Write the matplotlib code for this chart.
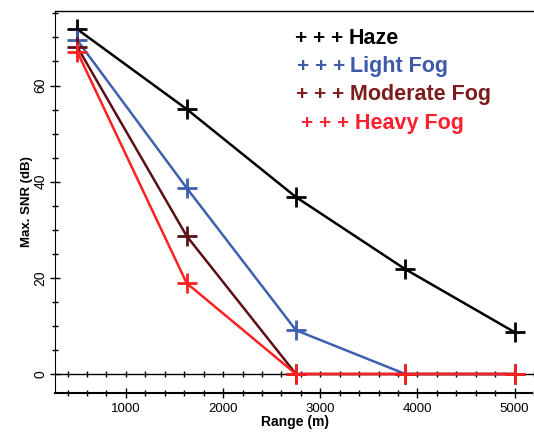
import matplotlib
matplotlib.use("Agg")
import matplotlib.pyplot as plt
from matplotlib.ticker import MultipleLocator, NullFormatter

plt.rcParams['font.family'] = ['Liberation Sans', 'DejaVu Sans']

# range points (m)
rng = [500, 1625, 2750, 3875, 5000]

haze = [71.7, 55.1, 36.8, 21.8, 8.7]
light_fog = [69.4, 38.7, 9.1, 0, 0]
moderate_fog = [68.0, 28.7, 0, 0, 0]
heavy_fog = [67.0, 18.9, 0, 0, 0]

names = ["Haze", "Light Fog", "Moderate Fog", "Heavy Fog"]
line_cols = ["black", "#3f5fb0", "#5a1016", "#ff2121"]
text_cols = ["black", "#3d5aa8", "#7d1c1c", "#ff1f2f"]

fig = plt.figure(figsize=(5.34, 4.32), dpi=100)
ax = fig.add_axes([0.103, 0.0903, 0.897, 0.8842])

for ys, c in zip([haze, light_fog, moderate_fog, heavy_fog], line_cols):
    ax.plot(rng, ys, color=c, lw=1.8, marker='+', ms=14, mew=2)

ax.set_xlim(270, 5200)
ax.set_ylim(-3.95, 75.5)

# zero line with its own small ticks
ax.axhline(0, color='black', lw=1, zorder=1)
sec = ax.secondary_xaxis(3.95 / 79.45)
sec.spines['bottom'].set_visible(False)
sec.xaxis.set_major_locator(MultipleLocator(200))
sec.xaxis.set_major_formatter(NullFormatter())
sec.tick_params(axis='x', direction='inout', length=5, width=1)

ax.spines['right'].set_visible(False)
ax.spines['top'].set_linestyle((0, (1, 1)))
ax.spines['bottom'].set_linestyle((0, (1, 1)))
ax.spines['top'].set_linewidth(1)
ax.spines['bottom'].set_linewidth(1.5)

ax.xaxis.set_major_locator(MultipleLocator(1000))
ax.xaxis.set_minor_locator(MultipleLocator(200))
ax.yaxis.set_major_locator(MultipleLocator(20))
ax.yaxis.set_minor_locator(MultipleLocator(5))
ax.tick_params(axis='x', which='major', direction='inout', length=7, width=1, labelsize=9.5, pad=4)
ax.tick_params(axis='x', which='minor', direction='inout', length=4, width=1)
ax.tick_params(axis='y', which='major', direction='inout', length=7, width=1, labelsize=10, pad=2)
ax.tick_params(axis='y', which='minor', direction='inout', length=5, width=1)
for lbl in ax.get_yticklabels():
    lbl.set_rotation(90)
    lbl.set_va('center')

ax.set_xlabel("Range (m)", fontsize=10, fontweight='bold', labelpad=0)
ax.set_ylabel("Max. SNR (dB)", fontsize=9.5, fontweight='bold', labelpad=0)

# text legend: pluses then the name
plus_x = [0.552, 0.556, 0.554, 0.564]
name_x = [0.652, 0.655, 0.655, 0.665]
leg_y = [0.912, 0.847, 0.782, 0.713]
for px, nx, ly, name, c in zip(plus_x, name_x, leg_y, names, text_cols):
    fig.text(px, ly, "+ + +", color=c, fontsize=15, fontweight='bold',
             va='center', ha='left')
    fig.text(nx, ly, name, color=c, fontsize=15.5, fontweight='bold',
             va='center', ha='left')

fig.savefig("out.png", dpi=100)
